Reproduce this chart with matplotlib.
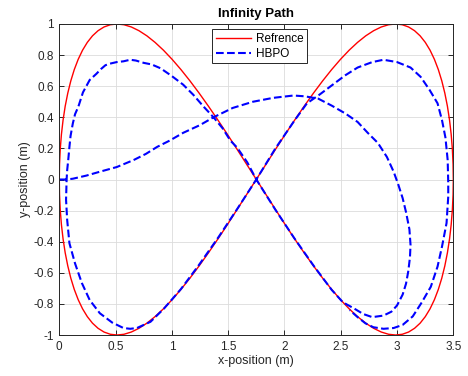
import matplotlib
matplotlib.use("Agg")
import matplotlib.pyplot as plt

plt.rcParams['font.family'] = ['Liberation Sans', 'DejaVu Sans']

# Reference infinity path
x_ref = [0, 0.0021, 0.0084, 0.0189, 0.0336, 0.0524, 0.0754, 0.1023, 0.1332, 0.1680,
         0.2066, 0.2490, 0.2949, 0.3444, 0.3972, 0.4533, 0.5126, 0.5748, 0.6398, 0.7075,
         0.7778, 0.8503, 0.9251, 1.0018, 1.0803, 1.1604, 1.2420, 1.3248, 1.4086, 1.4932,
         1.5785, 1.6641, 1.75, 1.8359, 1.9215, 2.0068, 2.0914, 2.1752, 2.2580, 2.3396,
         2.4197, 2.4982, 2.5749, 2.6497, 2.7222, 2.7925, 2.8602, 2.9252, 2.9874, 3.0467,
         3.1028, 3.1556, 3.2051, 3.2510, 3.2934, 3.3320, 3.3668, 3.3977, 3.4246, 3.4476,
         3.4664, 3.4811, 3.4916, 3.4979, 3.5,
         3.4979, 3.4916, 3.4811, 3.4664, 3.4476, 3.4246, 3.3977, 3.3668, 3.3320, 3.2934,
         3.2510, 3.2051, 3.1556, 3.1028, 3.0467, 2.9874, 2.9252, 2.8602, 2.7925, 2.7222,
         2.6497, 2.5749, 2.4982, 2.4197, 2.3396, 2.2580, 2.1752, 2.0914, 2.0068, 1.9215,
         1.8359, 1.75, 1.6641, 1.5785, 1.4932, 1.4086, 1.3248, 1.2420, 1.1604, 1.0803,
         1.0018, 0.9251, 0.8503, 0.7778, 0.7075, 0.6398, 0.5748, 0.5126, 0.4533, 0.3972,
         0.3444, 0.2949, 0.2490, 0.2066, 0.1680, 0.1332, 0.1023, 0.0754, 0.0524, 0.0336,
         0.0189, 0.0084, 0.0021, 0]
y_ref = [0, 0.0980, 0.1951, 0.2903, 0.3827, 0.4714, 0.5556, 0.6344, 0.7071, 0.7730,
         0.8315, 0.8819, 0.9239, 0.9569, 0.9808, 0.9952, 1.0, 0.9952, 0.9808, 0.9569,
         0.9239, 0.8819, 0.8315, 0.7730, 0.7071, 0.6344, 0.5556, 0.4714, 0.3827, 0.2903,
         0.1951, 0.0980, 0, -0.0980, -0.1951, -0.2903, -0.3827, -0.4714, -0.5556, -0.6344,
         -0.7071, -0.7730, -0.8315, -0.8819, -0.9239, -0.9569, -0.9808, -0.9952, -1.0, -0.9952,
         -0.9808, -0.9569, -0.9239, -0.8819, -0.8315, -0.7730, -0.7071, -0.6344, -0.5556, -0.4714,
         -0.3827, -0.2903, -0.1951, -0.0980, 0,
         0.0980, 0.1951, 0.2903, 0.3827, 0.4714, 0.5556, 0.6344, 0.7071, 0.7730, 0.8315,
         0.8819, 0.9239, 0.9569, 0.9808, 0.9952, 1.0, 0.9952, 0.9808, 0.9569, 0.9239,
         0.8819, 0.8315, 0.7730, 0.7071, 0.6344, 0.5556, 0.4714, 0.3827, 0.2903, 0.1951,
         0.0980, 0, -0.0980, -0.1951, -0.2903, -0.3827, -0.4714, -0.5556, -0.6344, -0.7071,
         -0.7730, -0.8315, -0.8819, -0.9239, -0.9569, -0.9808, -0.9952, -1.0, -0.9952, -0.9808,
         -0.9569, -0.9239, -0.8819, -0.8315, -0.7730, -0.7071, -0.6344, -0.5556, -0.4714, -0.3827,
         -0.2903, -0.1951, -0.0980, 0]

# HBPO tracked trajectory
x_hbpo = [0.00, 0.06, 0.12, 0.24, 0.36, 0.51, 0.66, 0.77, 0.87, 0.98,
          1.10, 1.25, 1.37, 1.54, 1.72, 1.90, 2.08, 2.18, 2.30, 2.42,
          2.54, 2.65, 2.74, 2.83, 2.91, 2.97, 3.01, 3.05, 3.08, 3.11,
          3.12, 3.115, 3.10, 3.08, 3.05, 3.00, 2.95, 2.88, 2.78, 2.70,
          2.62, 2.52, 2.42, 2.26, 2.09, 1.92, 1.75,
          1.67, 1.58, 1.52, 1.45, 1.37, 1.28, 1.19, 1.10, 1.00, 0.90,
          0.82, 0.75, 0.68, 0.63, 0.57, 0.51, 0.45, 0.41, 0.37, 0.33,
          0.27, 0.24, 0.21, 0.17, 0.14, 0.12, 0.10, 0.09, 0.08, 0.07, 0.065,
          0.06, 0.07, 0.09, 0.14, 0.20, 0.27, 0.36, 0.47, 0.57, 0.63,
          0.69, 0.81, 0.93,
          1.08, 1.24, 1.41, 1.58, 1.75, 1.92, 2.09, 2.20, 2.31, 2.43,
          2.54, 2.65, 2.78, 2.88, 3.00, 3.12, 3.21, 3.29, 3.36, 3.40,
          3.43, 3.45, 3.455, 3.455, 3.44, 3.40, 3.36, 3.30, 3.22, 3.14,
          3.05, 2.97, 2.88, 2.79, 2.72, 2.65, 2.58]
y_hbpo = [0.00, 0.00, 0.005, 0.025, 0.05, 0.08, 0.125, 0.165, 0.21, 0.25,
          0.30, 0.35, 0.40, 0.46, 0.50, 0.525, 0.54, 0.535, 0.52, 0.475,
          0.425, 0.37, 0.30, 0.235, 0.145, 0.05, -0.03, -0.12, -0.21, -0.32,
          -0.42, -0.50, -0.59, -0.67, -0.74, -0.81, -0.85, -0.875, -0.885, -0.865,
          -0.83, -0.79, -0.71, -0.555, -0.38, -0.195, 0.0,
          0.11, 0.205, 0.25, 0.33, 0.40, 0.47, 0.545, 0.61, 0.665, 0.715,
          0.74, 0.75, 0.765, 0.77, 0.76, 0.755, 0.745, 0.735, 0.71, 0.68,
          0.64, 0.60, 0.56, 0.47, 0.42, 0.36, 0.28, 0.21, 0.13, 0.06, 0.0,
          -0.13, -0.26, -0.41, -0.54, -0.665, -0.775, -0.86, -0.92, -0.955, -0.96,
          -0.955, -0.915, -0.83,
          -0.705, -0.55, -0.375, -0.19, 0.0, 0.20, 0.38, 0.49, 0.545, 0.61,
          0.67, 0.72, 0.755, 0.77, 0.755, 0.72, 0.66, 0.575, 0.49, 0.38,
          0.27, 0.125, -0.02, -0.11, -0.28, -0.43, -0.56, -0.69, -0.79, -0.88,
          -0.935, -0.955, -0.96, -0.95, -0.925, -0.885, -0.84]

x_ticks = [0, 0.5, 1, 1.5, 2, 2.5, 3, 3.5]
x_tick_labels = ['0', '0.5', '1', '1.5', '2', '2.5', '3', '3.5']
y_ticks = [-1, -0.8, -0.6, -0.4, -0.2, 0, 0.2, 0.4, 0.6, 0.8, 1]
y_tick_labels = ['-1', '-0.8', '-0.6', '-0.4', '-0.2', '0', '0.2', '0.4', '0.6', '0.8', '1']

fig = plt.figure(figsize=(4.68, 3.76), dpi=100)
ax = fig.add_axes([0.1267, 0.1090, 0.8419, 0.8272])

ax.plot(x_ref, y_ref, color='#ff0000', lw=1.0, label='Refrence')
ax.plot(x_hbpo, y_hbpo, color='#0000ff', lw=1.5, ls='--', label='HBPO')

ax.set_xlim(0, 3.5)
ax.set_ylim(-1, 1)
ax.set_xticks(x_ticks)
ax.set_xticklabels(x_tick_labels)
ax.set_yticks(y_ticks)
ax.set_yticklabels(y_tick_labels)

ax.grid(True, color='#dcdcdc', lw=0.6)
ax.set_axisbelow(True)
for s in ax.spines.values():
    s.set_color('#262626')
    s.set_linewidth(0.7)
ax.tick_params(direction='in', length=3.5, width=0.7, top=True, right=True,
               colors='#262626', labelsize=8.5, pad=4)

ax.set_title('Infinity Path', fontsize=9.5, fontweight='bold', pad=5)
ax.set_xlabel('x-position (m)', fontsize=9, color='#262626', labelpad=2)
ax.set_ylabel('y-position (m)', fontsize=9, color='#262626', labelpad=2)

leg = ax.legend(loc='upper center', bbox_to_anchor=(0.508, 0.983), fontsize=8.5,
                fancybox=False, framealpha=1, edgecolor='#262626', handlelength=3.0,
                borderpad=0.3, labelspacing=0.25, handletextpad=0.4, borderaxespad=0)
leg.get_frame().set_linewidth(0.7)

fig.savefig('out.png', dpi=100)
